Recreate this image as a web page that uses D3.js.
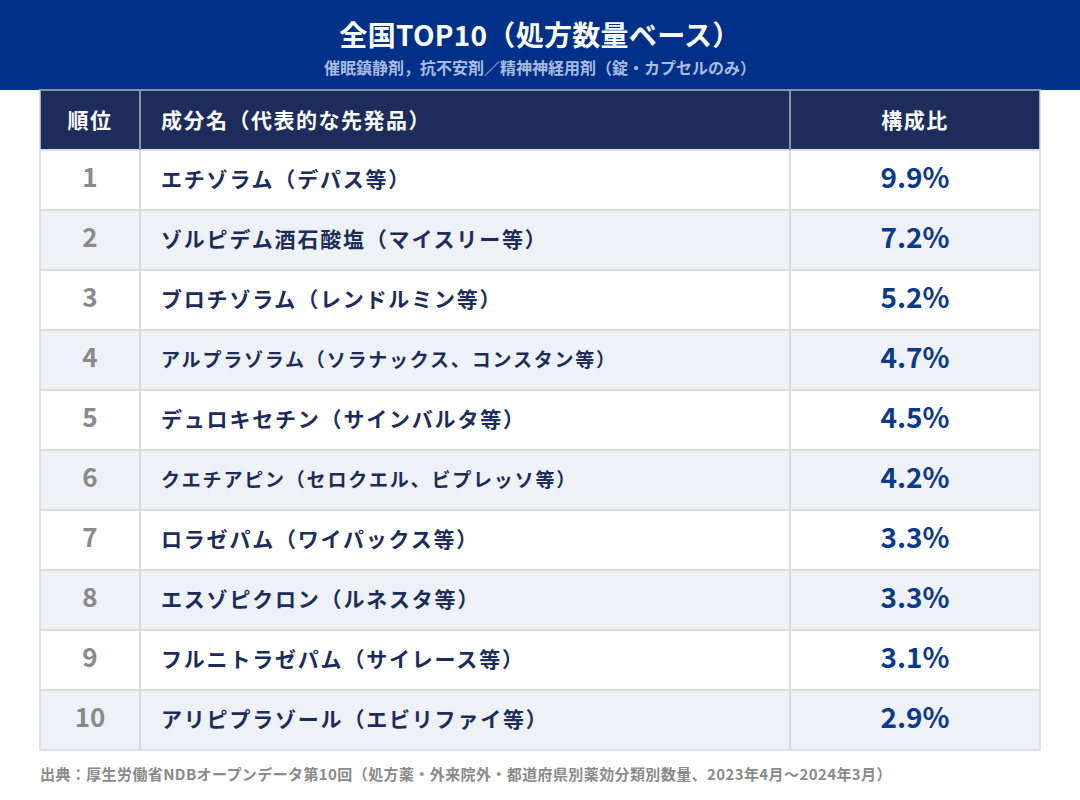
<!DOCTYPE html>
<html>
<head>
<meta charset="utf-8">
<script src="https://cdn.jsdelivr.net/npm/d3@7"></script>
<style>
  body { margin: 0; background: #fff; }
  svg text { font-family: "Noto Sans CJK JP", "Noto Sans", sans-serif; font-weight: 700; }
</style>
</head>
<body>
<svg width="1080" height="800"></svg>
<script>
(function () {

  // data
  var ranks = [1, 2, 3, 4, 5, 6, 7, 8, 9, 10]
  var names = [
    'エチゾラム（デパス等）',
    'ゾルピデム酒石酸塩（マイスリー等）',
    'ブロチゾラム（レンドルミン等）',
    'アルプラゾラム（ソラナックス、コンスタン等）',
    'デュロキセチン（サインバルタ等）',
    'クエチアピン（セロクエル、ビプレッソ等）',
    'ロラゼパム（ワイパックス等）',
    'エスゾピクロン（ルネスタ等）',
    'フルニトラゼパム（サイレース等）',
    'アリピプラゾール（エビリファイ等）'
  ]
  var shares = [9.9, 7.2, 5.2, 4.7, 4.5, 4.2, 3.3, 3.3, 3.1, 2.9]
  var columns = ['順位', '成分名（代表的な先発品）', '構成比']

  var title = '全国TOP10（処方数量ベース）'
  var subtitle = '催眠鎮静剤，抗不安剤／精神神経用剤（錠・カプセルのみ）'
  var source = '出典：厚生労働省NDBオープンデータ第10回（処方薬・外来院外・都道府県別薬効分類別数量、2023年4月〜2024年3月）'

  var rows = ranks.map(function (r, i) {
    return { rank: r, name: names[i], share: shares[i] }
  })

  var svg = d3.select('svg')

  var left = 40, right = 1040, top = 90, headH = 60
  var colX = [40, 140, 790, 1040]

  var yScale = d3.scaleBand()
    .domain(ranks)
    .range([top + headH, top + headH + 60 * ranks.length])

  // title bar
  svg.append('rect')
    .attr('x', 0).attr('y', 0).attr('width', 1080).attr('height', 90)
    .attr('fill', '#003087')

  svg.append('text')
    .attr('x', 540).attr('y', 34)
    .attr('text-anchor', 'middle')
    .attr('dominant-baseline', 'central')
    .attr('fill', '#fff')
    .attr('font-size', 28)
    .attr('letter-spacing', 0.3)
    .text(title)

  svg.append('text')
    .attr('x', 540).attr('y', 67)
    .attr('text-anchor', 'middle')
    .attr('dominant-baseline', 'central')
    .attr('fill', '#a9bbe0')
    .attr('font-size', 16)
    .text(subtitle)

  // header row
  svg.append('rect')
    .attr('x', left).attr('y', top).attr('width', right - left).attr('height', headH)
    .attr('fill', '#1d2d5b')

  svg.selectAll('.head')
    .data(columns)
    .enter().append('text')
    .attr('class', 'head')
    .attr('x', function (d, i) {
      if (i == 1) return 161
      return (colX[i] + colX[i + 1]) / 2
    })
    .attr('y', top + headH / 2 - 1)
    .attr('text-anchor', function (d, i) { return i == 1 ? 'start' : 'middle' })
    .attr('dominant-baseline', 'central')
    .attr('fill', '#fff')
    .attr('font-size', 21)
    .attr('letter-spacing', 1.5)
    .text(function (d) { return d })

  // body rows
  var g = svg.selectAll('.row')
    .data(rows)
    .enter().append('g')
    .attr('class', 'row')
    .attr('transform', function (d) { return 'translate(0,' + yScale(d.rank) + ')' })

  g.append('rect')
    .attr('x', left).attr('y', 0)
    .attr('width', right - left)
    .attr('height', yScale.bandwidth())
    .attr('fill', function (d) { return d.rank % 2 == 0 ? '#eef2f7' : '#fff' })

  g.append('line')
    .attr('x1', left).attr('x2', right)
    .attr('y1', 0).attr('y2', 0)
    .attr('stroke', '#dcdee2')
    .attr('stroke-width', 2)

  g.append('text')
    .attr('x', (colX[0] + colX[1]) / 2)
    .attr('y', 37)
    .attr('text-anchor', 'middle')
    .attr('fill', '#8a8a8a')
    .attr('font-family', '"Noto Sans", sans-serif')
    .attr('font-size', 26)
    .text(function (d) { return d.rank })

  // longer names are set a bit smaller in the original
  g.append('text')
    .attr('x', 161)
    .attr('y', yScale.bandwidth() / 2 - 2)
    .attr('dominant-baseline', 'central')
    .attr('fill', '#1d2d5b')
    .attr('font-size', function (d) { return d.name.length > 18 ? 19 : 21 })
    .attr('letter-spacing', 1.8)
    .text(function (d) { return d.name })

  g.append('text')
    .attr('x', (colX[2] + colX[3]) / 2)
    .attr('y', 38)
    .attr('text-anchor', 'middle')
    .attr('fill', '#0b3a8c')
    .attr('font-family', '"Liberation Sans", Arial, sans-serif')
    .attr('font-size', 28)
    .text(function (d) { return d.share.toFixed(1) + '%' })

  // grid: column dividers and outer border
  var bottom = yScale.range()[1]
  svg.selectAll('.vline')
    .data([colX[1], colX[2]])
    .enter().append('line')
    .attr('class', 'vline')
    .attr('x1', function (d) { return d }).attr('x2', function (d) { return d })
    .attr('y1', top).attr('y2', bottom)
    .attr('stroke', '#d6d9de')
    .attr('stroke-width', 2)

  svg.selectAll('.vline-head')
    .data([colX[1], colX[2]])
    .enter().append('line')
    .attr('x1', function (d) { return d }).attr('x2', function (d) { return d })
    .attr('y1', top).attr('y2', top + headH)
    .attr('stroke', '#6f7d9c')
    .attr('stroke-width', 1.5)

  svg.append('rect')
    .attr('x', left).attr('y', top)
    .attr('width', right - left).attr('height', bottom - top)
    .attr('fill', 'none')
    .attr('stroke', '#d6d9de')
    .attr('stroke-width', 1.5)

  svg.append('line')
    .attr('x1', left).attr('x2', right)
    .attr('y1', top).attr('y2', top)
    .attr('stroke', '#7e8aa6')
    .attr('stroke-width', 1.5)

  // source note
  svg.append('text')
    .attr('x', 40).attr('y', 773)
    .attr('dominant-baseline', 'central')
    .attr('fill', '#8a8a8a')
    .attr('font-size', 15)
    .attr('letter-spacing', 0.4)
    .text(source)

})()
</script>
</body>
</html>
